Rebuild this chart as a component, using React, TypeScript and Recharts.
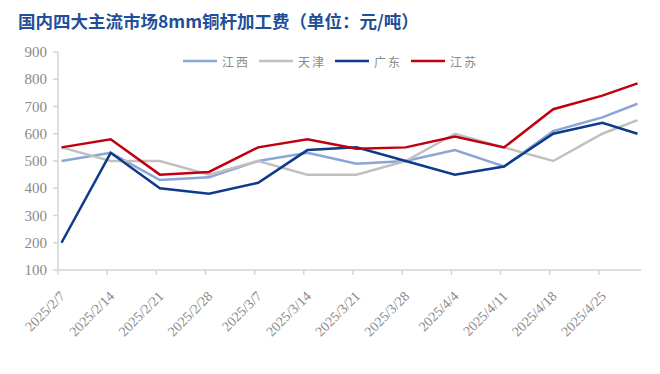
import { LineChart, Line, XAxis, YAxis } from "recharts";

// weekly dates; the last point is a mid-week update (no axis label)
const dates = [
  "2025/2/7", "2025/2/14", "2025/2/21", "2025/2/28", "2025/3/7", "2025/3/14",
  "2025/3/21", "2025/3/28", "2025/4/4", "2025/4/11", "2025/4/18", "2025/4/25", "2025/4/30",
];
const tickLabels = dates.slice(0, 12);

const jiangxi = [500, 530, 430, 440, 500, 530, 490, 500, 540, 480, 610, 660, 710];
const tianjin = [550, 500, 500, 450, 500, 450, 450, 500, 600, 550, 500, 600, 650];
const guangdong = [200, 530, 400, 380, 420, 540, 550, 500, 450, 480, 600, 640, 600];
const jiangsu = [550, 580, 450, 460, 550, 580, 545, 550, 590, 550, 690, 740, 785];

const yTicks = [100, 200, 300, 400, 500, 600, 700, 800, 900];

const series = [
  { key: "jiangxi", name: "江西", color: "#8ba5d6" },
  { key: "tianjin", name: "天津", color: "#c0c0c0" },
  { key: "guangdong", name: "广东", color: "#0d3a8a" },
  { key: "jiangsu", name: "江苏", color: "#c00010" },
];

const base = Date.UTC(2025, 1, 7);
const dayOf = (s: string) => {
  const [y, m, d] = s.split("/").map(Number);
  return Math.round((Date.UTC(y, m - 1, d) - base) / 86400000);
};

const data = dates.map((d, i) => ({
  day: dayOf(d),
  jiangxi: jiangxi[i],
  tianjin: tianjin[i],
  guangdong: guangdong[i],
  jiangsu: jiangsu[i],
}));

// ticks sit on the day-slot boundary, like Excel's date axis
const xTicks = tickLabels.map((d) => dayOf(d) - 0.5);
const lastDay = dayOf(dates[dates.length - 1]);

const axisColor = "#d4d4d4";
const labelColor = "#8a8a8a";
const serif = "'Liberation Serif'";

const XTick = ({ x, y, payload }: any) => {
  const idx = xTicks.indexOf(payload.value);
  const label = idx >= 0 ? tickLabels[idx] : "";
  return (
    <text
      x={0}
      y={0}
      transform={`translate(${x + 8},${y + 20}) rotate(-45)`}
      textAnchor="end"
      fill={labelColor}
      fontFamily={serif}
      fontSize={14}
    >
      {label}
    </text>
  );
};

const YTick = ({ x, y, payload }: any) => (
  <text
    x={x}
    y={y}
    dy={5}
    textAnchor="end"
    fill={labelColor}
    fontFamily={serif}
    fontSize={15}
  >
    {payload.value}
  </text>
);

export default function App() {
  return (
    <div
      style={{
        position: "fixed",
        left: 0,
        top: 0,
        width: 660,
        height: 374,
        background: "#fff",
      }}
    >
      <div
        style={{
          position: "absolute",
          left: 18,
          top: 11,
          lineHeight: "20px",
          fontSize: 17.5,
          fontWeight: "bold",
          color: "#1f4e9a",
          fontFamily: "'Noto Sans CJK SC', sans-serif",
          whiteSpace: "nowrap",
        }}
      >
        国内四大主流市场8mm铜杆加工费（单位：元/吨）
      </div>
      <div
        style={{
          position: "absolute",
          left: 183,
          top: 52,
          height: 18,
          display: "flex",
          alignItems: "center",
          fontFamily: "'Noto Sans CJK SC', sans-serif",
          fontSize: 12,
          color: labelColor,
        }}
      >
        {series.map((s) => (
          <div key={s.key} style={{ display: "flex", alignItems: "center", marginRight: 9 }}>
            <svg width={34} height={4} style={{ marginRight: 5 }}>
              <line x1={0} y1={2} x2={34} y2={2} stroke={s.color} strokeWidth={2.5} />
            </svg>
            <span style={{ letterSpacing: 2 }}>{s.name}</span>
          </div>
        ))}
      </div>
      <LineChart
        width={660}
        height={374}
        data={data}
        margin={{ top: 52, right: 19, bottom: 74, left: 0 }}
        style={{ fontFamily: serif }}
      >
        <XAxis
          dataKey="day"
          type="number"
          domain={[-0.5, lastDay + 0.5]}
          ticks={xTicks}
          interval={0}
          height={30}
          tickSize={5}
          axisLine={{ stroke: axisColor, strokeWidth: 1.5 }}
          tickLine={{ stroke: axisColor, strokeWidth: 1.5 }}
          tick={<XTick />}
        />
        <YAxis
          type="number"
          domain={[100, 900]}
          ticks={yTicks}
          interval={0}
          width={58}
          tickSize={5}
          tickMargin={6}
          axisLine={{ stroke: axisColor, strokeWidth: 1.5 }}
          tickLine={{ stroke: axisColor, strokeWidth: 1.5 }}
          tick={<YTick />}
        />
        {series.map((s) => (
          <Line
            key={s.key}
            type="linear"
            dataKey={s.key}
            name={s.name}
            stroke={s.color}
            strokeWidth={2.5}
            dot={false}
            activeDot={false}
            isAnimationActive={false}
          />
        ))}
      </LineChart>
    </div>
  );
}
